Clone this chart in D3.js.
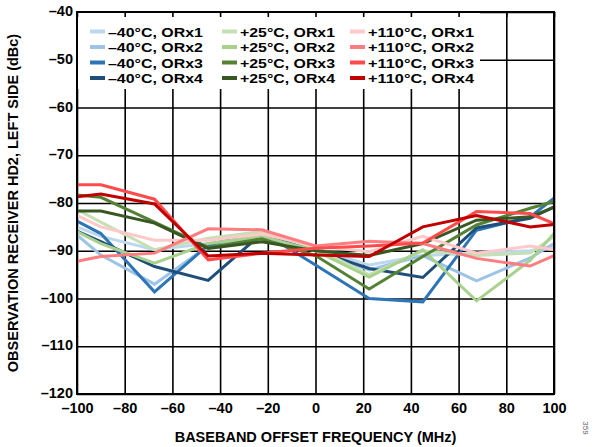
<!DOCTYPE html>
<html>
<head>
<meta charset="utf-8">
<script src="https://cdn.jsdelivr.net/npm/d3@7"></script>
<style>
  body { margin: 0; background: #fff; }
  svg { display: block; font-family: "Liberation Sans", Arial, sans-serif; }
  .tick text { font-size: 14.5px; font-weight: bold; fill: #000; }
  .axis-label { font-size: 14.5px; font-weight: bold; fill: #000; }
  .legend text { font-size: 13.5px; font-weight: bold; fill: #000; }
</style>
</head>
<body>
<svg></svg>
<script>
// offset frequencies (MHz)
const freqs = [-100, -90, -67.5, -45, -22.5, 0, 22.5, 45, 67.5, 90, 100];

const seriesNames = [
  "–40°C, ORx1", "–40°C, ORx2", "–40°C, ORx3", "–40°C, ORx4",
  "+25°C, ORx1", "+25°C, ORx2", "+25°C, ORx3", "+25°C, ORx4",
  "+110°C, ORx1", "+110°C, ORx2", "+110°C, ORx3", "+110°C, ORx4",
];

// HD2 (dBc) per series
const m40orx1 = [-85, -87, -89.8, -88.5, -87, -89.5, -93, -91, -90.5, -90, -89];
const m40orx2 = [-86.7, -90.9, -97, -89, -87, -90, -94, -91, -96.3, -91.5, -88.5];
const m40orx3 = [-83.8, -86.4, -98.6, -88.8, -86, -93, -100, -100.7, -85.7, -82.9, -79];
const m40orx4 = [-85.9, -88.1, -93.3, -96.2, -86.4, -90, -93.7, -95.6, -85.2, -83.2, -80.8];
const p25orx1 = [-81.4, -84, -89.8, -87.4, -86, -89.5, -95, -90, -91, -90.5, -87];
const p25orx2 = [-86, -88.5, -92.6, -88.5, -87, -90, -95.5, -89.8, -100.5, -92, -86.4];
const p25orx3 = [-78.3, -78.8, -84, -89.3, -87.5, -91, -98, -91.2, -84.6, -81.1, -79.7];
const p25orx4 = [-81.7, -81.7, -84.2, -89.5, -88.1, -90, -91, -88.5, -83.6, -82.9, -80.9];
const p110orx1 = [-82.6, -85, -87.8, -87.8, -86.5, -89, -90.2, -87, -90.5, -89, -89.8];
const p110orx2 = [-92.2, -91.2, -90.5, -85.4, -85.6, -89, -88, -88.5, -91.6, -93.2, -91];
const p110orx3 = [-76.2, -76.2, -79.2, -91.9, -90.5, -89.5, -89, -88.4, -81.8, -82.2, -84.3];
const p110orx4 = [-78.7, -78.1, -80.2, -91.1, -90.5, -90.9, -91.2, -85, -82.6, -85, -84.5];

const seriesValues = [
  m40orx1, m40orx2, m40orx3, m40orx4,
  p25orx1, p25orx2, p25orx3, p25orx4,
  p110orx1, p110orx2, p110orx3, p110orx4,
];

const colors = [
  "#bdd7ee", "#9dc3e6", "#2e75b6", "#1f4e79",
  "#c5e0b4", "#a9d18e", "#548235", "#385723",
  "#ffc9c9", "#ff7c80", "#ff4b4b", "#c00000",
];

const xTicks = [-100, -80, -60, -40, -20, 0, 20, 40, 60, 80, 100];
const yTicks = [-40, -50, -60, -70, -80, -90, -100, -110, -120];

const svg = d3.select("svg");
svg.attr("width", 594).attr("height", 447);

const margin = { left: 77, right: 40, top: 12, bottom: 53 };
const graphWidth = 594 - margin.left - margin.right;
const graphHeight = 447 - margin.top - margin.bottom;

const xScale = d3.scaleLinear().domain([-100, 100]).range([0, graphWidth]);
const yScale = d3.scaleLinear().domain([-120, -40]).range([graphHeight, 0]);

const g = svg.append("g").attr("transform", `translate(${margin.left}, ${margin.top})`);

const fmt = (d) => (d < 0 ? "–" + Math.abs(d) : String(d));

// grid
const xAxisG = g.append("g")
  .attr("transform", `translate(0, ${graphHeight})`)
  .call(d3.axisBottom(xScale).tickValues(xTicks).tickFormat(fmt).tickSize(-graphHeight).tickPadding(9));
xAxisG.select(".domain").remove();
xAxisG.selectAll(".tick line").attr("stroke", "#000").attr("stroke-width", 1.6);

const yAxisG = g.append("g")
  .call(d3.axisLeft(yScale).tickValues(yTicks).tickFormat(fmt).tickSize(-graphWidth).tickPadding(4));
yAxisG.select(".domain").remove();
yAxisG.selectAll(".tick line").attr("stroke", "#000").attr("stroke-width", 1.6);
yAxisG.selectAll(".tick text").attr("dy", "0.25em");

// lines
const line = d3.line()
  .x((d, i) => xScale(freqs[i]))
  .y((d) => yScale(d));

seriesValues.forEach((vals, i) => {
  g.append("path")
    .attr("d", line(vals))
    .attr("fill", "none")
    .attr("stroke", colors[i])
    .attr("stroke-width", 3)
    .attr("stroke-linejoin", "miter");
});

// legend box (covers grid)
const legend = g.append("g").attr("class", "legend");
legend.append("rect")
  .attr("x", 0).attr("y", 0)
  .attr("width", 403).attr("height", 77)
  .attr("fill", "#fff");

// small inner ticks on top border
g.append("g")
  .call(d3.axisTop(xScale).tickValues(xTicks).tickFormat("").tickSize(-5))
  .call((a) => a.select(".domain").remove())
  .selectAll("line").attr("stroke", "#000").attr("stroke-width", 1.6);

const colX = [13, 145, 273];
seriesNames.forEach((name, i) => {
  const col = Math.floor(i / 4);
  const row = i % 4;
  const y = 19.5 + row * 15.5;
  legend.append("line")
    .attr("x1", colX[col]).attr("x2", colX[col] + 15)
    .attr("y1", y).attr("y2", y)
    .attr("stroke", colors[i]).attr("stroke-width", 4);
  legend.append("text")
    .attr("x", colX[col] + 18).attr("y", y + 5)
    .attr("textLength", i >= 8 ? 106 : 95)
    .attr("lengthAdjust", "spacingAndGlyphs")
    .text(name);
});

// frame
g.append("rect")
  .attr("width", graphWidth).attr("height", graphHeight)
  .attr("fill", "none").attr("stroke", "#000").attr("stroke-width", 2);

// axis titles
g.append("text")
  .attr("class", "axis-label")
  .attr("x", graphWidth / 2).attr("y", graphHeight + 48)
  .attr("text-anchor", "middle")
  .text("BASEBAND OFFSET FREQUENCY (MHz)");

g.append("text")
  .attr("class", "axis-label")
  .attr("transform", "rotate(-90)")
  .attr("x", -graphHeight / 2).attr("y", -59)
  .attr("text-anchor", "middle")
  .text("OBSERVATION RECEIVER HD2, LEFT SIDE (dBc)");

svg.append("text")
  .attr("transform", "translate(583, 428) rotate(90)")
  .attr("font-size", 8).attr("fill", "#666")
  .attr("text-anchor", "middle")
  .text("359");
</script>
</body>
</html>
